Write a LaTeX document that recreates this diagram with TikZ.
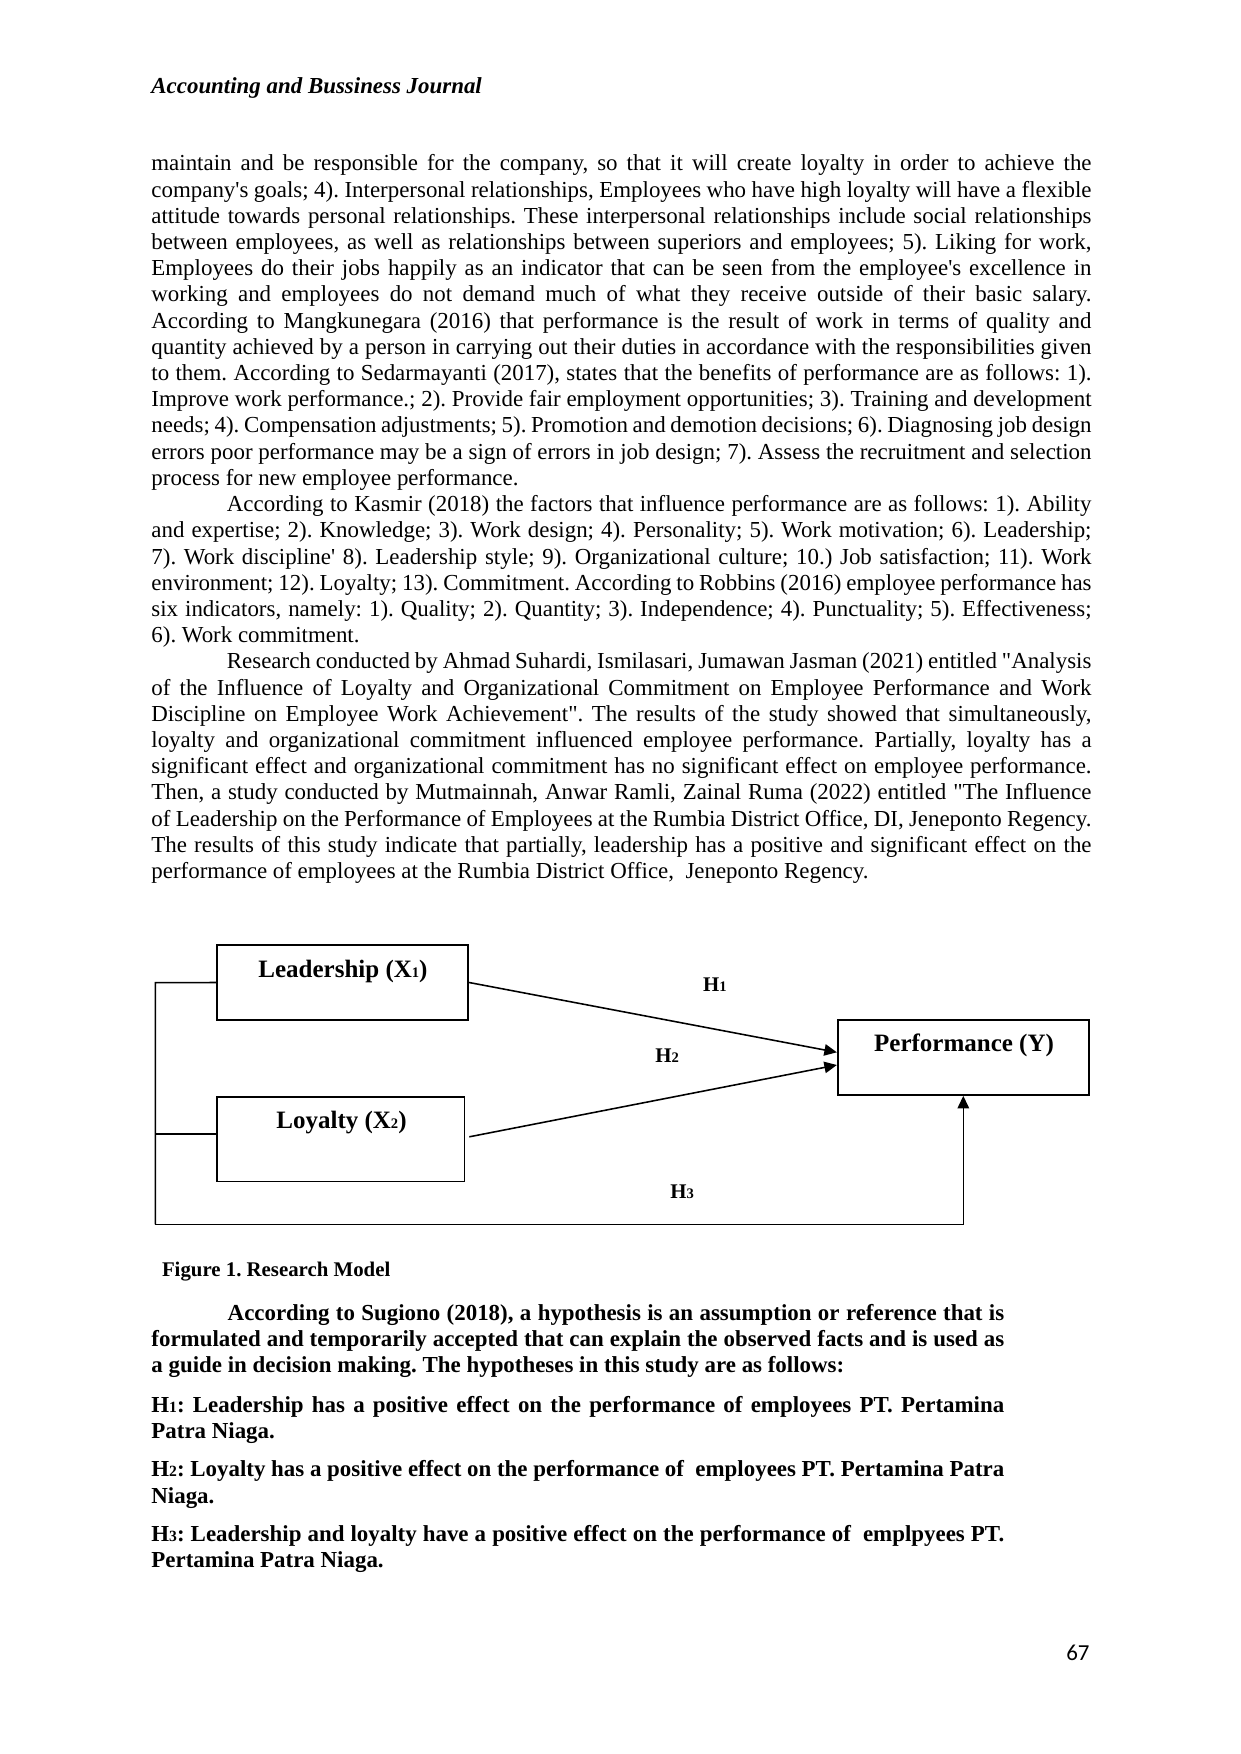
\documentclass[tikz,border=0pt]{standalone}
\usepackage{fontspec}
\usetikzlibrary{arrows.meta}
\newfontfamily\tnr{Liberation Serif}[Ligatures=NoCommon]
\newfontfamily\calib{Carlito}
\newcommand\subd[1]{{\fontsize{7pt}{7pt}\selectfont #1}}
\newcommand\subt[1]{{\fontsize{7.5pt}{7.5pt}\selectfont #1}}
\tikzset{
  txt/.style={anchor=base west, inner sep=0pt, font=\tnr\fontsize{11pt}{13pt}\selectfont},
  btxt/.style={anchor=base west, inner sep=0pt, font=\tnr\bfseries\fontsize{11pt}{13pt}\selectfont},
  varbox/.style={draw, line width=0.8pt, inner sep=0pt},
  boxlab/.style={anchor=base, inner sep=0pt, font=\tnr\bfseries\fontsize{12pt}{14pt}\selectfont},
  hlab/.style={anchor=base west, inner sep=0pt, font=\tnr\bfseries\fontsize{10pt}{12pt}\selectfont},
  conn/.style={line width=0.75pt},
  tip/.style={-{Triangle[length=6pt,width=5.5pt]}}
}
\newcommand\lineJ[2]{\node[txt] (l#1) at (151,{171+26.2*(#1-1)}) {\makebox[451.3pt][s]{#2}};}
\newcommand\lineI[2]{\node[txt] (l#1) at (226.5,{171+26.2*(#1-1)}) {\makebox[415.0pt][s]{#2}};}
\newcommand\lineN[2]{\node[txt] (l#1) at (151,{171+26.2*(#1-1)}) {#2};}
\begin{document}
\frenchspacing
\begin{tikzpicture}[x=0.480061pt, y=-0.480061pt]
\useasboundingbox (0,0) rectangle (1240,1754);
% header
\node[anchor=base west, inner sep=0pt, font=\tnr\bfseries\itshape\fontsize{11pt}{13pt}\selectfont] (head) at (151,94) {Accounting and Bussiness Journal};
% body text
\lineJ{1}{maintain and be responsible for the company, so that it will create loyalty in order to achieve the}
\lineJ{2}{company's goals; 4). Interpersonal relationships, Employees who have high loyalty will have a flexible}
\lineJ{3}{attitude towards personal relationships. These interpersonal relationships include social relationships}
\lineJ{4}{between employees, as well as relationships between superiors and employees; 5). Liking for work,}
\lineJ{5}{Employees do their jobs happily as an indicator that can be seen from the employee's excellence in}
\lineJ{6}{working and employees do not demand much of what they receive outside of their basic salary.}
\lineJ{7}{According to Mangkunegara (2016) that performance is the result of work in terms of quality and}
\lineJ{8}{quantity achieved by a person in carrying out their duties in accordance with the responsibilities given}
\lineJ{9}{to them. According to Sedarmayanti (2017), states that the benefits of performance are as follows: 1).}
\lineJ{10}{Improve work performance.; 2). Provide fair employment opportunities; 3). Training and development}
\lineJ{11}{needs; 4). Compensation adjustments; 5). Promotion and demotion decisions; 6). Diagnosing job design}
\lineJ{12}{errors poor performance may be a sign of errors in job design; 7). Assess the recruitment and selection}
\lineN{13}{process for new employee performance.}
\lineI{14}{According to Kasmir (2018) the factors that influence performance are as follows: 1). Ability}
\lineJ{15}{and expertise; 2). Knowledge; 3). Work design; 4). Personality; 5). Work motivation; 6). Leadership;}
\lineJ{16}{7). Work discipline' 8). Leadership style; 9). Organizational culture; 10.) Job satisfaction; 11). Work}
\lineJ{17}{environment; 12). Loyalty; 13). Commitment. According to Robbins (2016) employee performance has}
\lineJ{18}{six indicators, namely: 1). Quality; 2). Quantity; 3). Independence; 4). Punctuality; 5). Effectiveness;}
\lineN{19}{6). Work commitment.}
\lineI{20}{Research conducted by Ahmad Suhardi, Ismilasari, Jumawan Jasman (2021) entitled "Analysis}
\lineJ{21}{of the Influence of Loyalty and Organizational Commitment on Employee Performance and Work}
\lineJ{22}{Discipline on Employee Work Achievement". The results of the study showed that simultaneously,}
\lineJ{23}{loyalty and organizational commitment influenced employee performance. Partially, loyalty has a}
\lineJ{24}{significant effect and organizational commitment has no significant effect on employee performance.}
\lineJ{25}{Then, a study conducted by Mutmainnah, Anwar Ramli, Zainal Ruma (2022) entitled "The Influence}
\lineJ{26}{of Leadership on the Performance of Employees at the Rumbia District Office, DI, Jeneponto Regency.}
\lineJ{27}{The results of this study indicate that partially, leadership has a positive and significant effect on the}
\lineN{28}{performance of employees at the Rumbia District Office, \ Jeneponto Regency.}
% diagram
\node[varbox, minimum width=120.5pt, minimum height=36.0pt] (lead) at (342.8,982.5) {};
\node[varbox, minimum width=118.6pt, minimum height=40.6pt] (loy) at (340.8,1139.3) {};
\node[varbox, minimum width=120.6pt, minimum height=36.0pt] (perf) at (963.3,1057.5) {};
\node[boxlab] (leadT) at (343,977.7) {Leadership (X\subd{1})};
\node[boxlab] (loyT) at (341.5,1128.3) {Loyalty (X\subd{2})};
\node[boxlab] (perfT) at (964,1051.7) {Performance (Y)};
\node[hlab] (h1) at (702.7,991.7) {H\subd{1}};
\node[hlab] (h2) at (655,1062.3) {H\subd{2}};
\node[hlab] (h3) at (670,1198.3) {H\subd{3}};
\coordinate (tl) at (155.3,982.7);
\coordinate (bl) at (155.3,1224.3);
\draw[conn, tip] (lead.east) -- ([yshift=2.5pt]perf.west);
\draw[conn, tip] ([xshift=2pt,yshift=1.2pt]loy.east) -- ([yshift=-3.6pt]perf.west);
\draw[conn] (lead.west) -- (tl) -- (bl);
\draw[conn] ([yshift=2.5pt]loy.west) -- ([yshift=2.5pt]loy.west -| tl);
\draw[conn, tip] (bl) -| (perf.south);
% caption
\node[anchor=base west, inner sep=0pt, font=\tnr\bfseries\fontsize{10pt}{12pt}\selectfont] (cap) at (161.6,1276) {Figure 1. Research Model};
% bold paragraph
\node[btxt] (b1) at (227.3,1320) {\makebox[372.8pt][s]{According to Sugiono (2018), a hypothesis is an assumption or reference that is}};
\node[btxt] (b2) at (151,1346.7) {\makebox[409.4pt][s]{formulated and temporarily accepted that can explain the observed facts and is used as}};
\node[btxt] (b3) at (151,1372.7) {a guide in decision making. The hypotheses in this study are as follows:};
\node[btxt] (hy1a) at (151,1412.7) {\makebox[409.4pt][s]{H\subt{1}: Leadership has a positive effect on the performance of employees PT. Pertamina}};
\node[btxt] (hy1b) at (151,1438.3) {Patra Niaga.};
\node[btxt] (hy2a) at (151,1476.7) {\makebox[409.4pt][s]{H\subt{2}: Loyalty has a positive effect on the performance of \ employees PT. Pertamina Patra}};
\node[btxt] (hy2b) at (151,1503.3) {Niaga.};
\node[btxt] (hy3a) at (151,1541.7) {\makebox[409.4pt][s]{H\subt{3}: Leadership and loyalty have a positive effect on the performance of \ emplpyees PT.}};
\node[btxt] (hy3b) at (151,1567.3) {Pertamina Patra Niaga.};
% page number
\node[anchor=base east, inner sep=0pt, font=\calib\fontsize{11pt}{13pt}\selectfont] (pg) at (1090,1660) {67};
\end{tikzpicture}
\end{document}
